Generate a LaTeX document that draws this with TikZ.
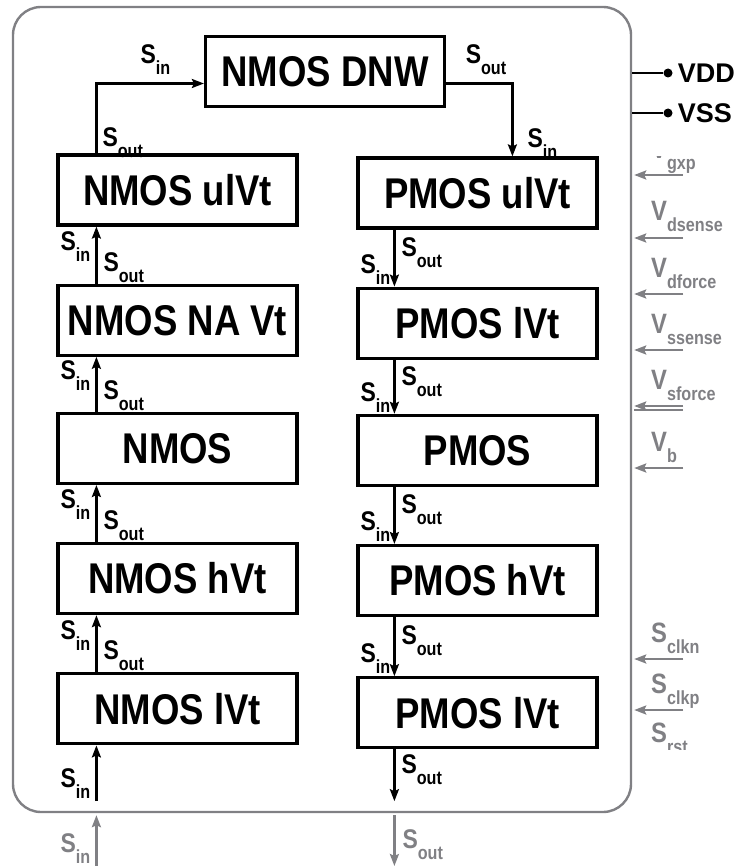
\documentclass[tikz,border=0pt]{standalone}
\usepackage{fontspec}
\setmainfont{Liberation Sans}
\newfontfamily\narrowsf{Liberation Sans}[FakeStretch=0.85]
\usetikzlibrary{arrows.meta,positioning,calc}
\definecolor{pingray}{RGB}{128,128,132}
\newcommand{\subl}[2]{#1\raisebox{-11pt}{\fontsize{19}{19}\selectfont #2}}

\begin{document}
\begin{tikzpicture}[
    x=1pt, y=-1pt,
    box/.style={
      draw, line width=3.2pt, minimum width=239pt, minimum height=70pt,
      inner sep=0pt, font=\narrowsf\bfseries\fontsize{43}{43}\selectfont
    },
    sig/.style={line width=2.3pt, -{Stealth[length=12pt,width=9pt,inset=2pt]}},
    gsig/.style={sig, draw=pingray, fill=pingray},
    lbl/.style={inner sep=0pt, font=\narrowsf\bfseries\fontsize{27}{27}\selectfont},
    glbl/.style={lbl, text=pingray},
    sidelbl/.style={glbl, font=\narrowsf\bfseries\fontsize{28}{28}\selectfont},
    frame/.style={draw=pingray, line width=2.4pt, rounded corners=28pt},
    pin/.style={circle, fill, inner sep=0pt, minimum size=9pt}
  ]
    \useasboundingbox (0,0) rectangle (741,866);
    \node[frame, minimum width=618pt, minimum height=805pt] (chip) at (322,409.5) {};

    % blocks
    \node[box] (dnw) at (325,71.5) {NMOS DNW};
    \node[box] (nulvt) at (177.5,190) {NMOS ulVt};
    \node[box, below=57pt of nulvt] (nnavt) {NMOS NA Vt};
    \node[box, below=55pt of nnavt] (nmos) {NMOS};
    \node[box, below=57pt of nmos] (nhvt) {NMOS hVt};
    \node[box, below=57pt of nhvt] (nlvt) {NMOS lVt};
    \node[box] (pulvt) at (477.5,193) {PMOS ulVt};
    \node[box, below=57pt of pulvt] (plvt) {PMOS lVt};
    \node[box, below=54pt of plvt] (pmos) {PMOS};
    \node[box, below=57pt of pmos] (phvt) {PMOS hVt};
    \node[box, below=59pt of phvt] (plvtb) {PMOS lVt};

    % scan chain
    \draw[sig] ([xshift=40pt]nulvt.north west) |- ([yshift=-12pt]dnw.west)
      node[lbl, pos=0.05, anchor=base west, xshift=5pt] (o0) {\subl{S}{out}}
      node[lbl, pos=0.7, anchor=base west, yshift=20pt] (i0) {\subl{S}{in}};
    \draw[sig] ([yshift=-12pt]dnw.east) -| ([xshift=156pt]pulvt.north west)
      node[lbl, pos=0.14, anchor=base west, yshift=20pt] (o1) {\subl{S}{out}}
      node[lbl, pos=0.94, anchor=base west, xshift=14pt] (i1) {\subl{S}{in}};
    \foreach \lo/\hi in {nnavt/nulvt, nmos/nnavt, nhvt/nmos, nlvt/nhvt}
      \draw[sig] ([xshift=40pt]\lo.north west) -- ([xshift=40pt]\hi.south west)
        node[lbl, pos=0.58, anchor=base east, xshift=-5pt] (in-\hi) {\subl{S}{in}}
        node[lbl, pos=0.22, anchor=base west, xshift=6pt] (out-\lo) {\subl{S}{out}};
    \foreach \hi/\lo in {pulvt/plvt, plvt/pmos, pmos/phvt, phvt/plvtb}
      \draw[sig] ([xshift=38pt]\hi.south west) -- ([xshift=38pt]\lo.north west)
        node[lbl, pos=0.47, anchor=base west, xshift=6pt] (out-\hi) {\subl{S}{out}}
        node[lbl, pos=0.77, anchor=base east, xshift=-3pt] (in-\lo) {\subl{S}{in}};

    % chain ends
    \coordinate (nlx) at ([xshift=40pt]nlvt.south west);
    \coordinate (inb) at (nlx |- chip.south);
    \coordinate (plx) at ([xshift=38pt]plvtb.south west);
    \coordinate (outb) at (plx |- chip.south);
    \draw[sig] ([yshift=12pt]inb) -- (nlx)
      node[lbl, pos=0.24, anchor=base east, xshift=-5pt] (in-end) {\subl{S}{in}};
    \draw[sig] (plx) -- ([yshift=12pt]outb)
      node[lbl, pos=0.47, anchor=base west, xshift=6pt] (out-end) {\subl{S}{out}};
    \draw[gsig] (nlx |- 0,866) -- ([yshift=-2pt]inb)
      node[glbl, pos=0.27, anchor=base east, xshift=-5pt] (in-ext) {\subl{S}{in}};
    \draw[gsig] ([yshift=-2pt]outb) -- (plx |- 0,866)
      node[glbl, pos=0.65, anchor=base west, xshift=7pt] (out-ext) {\subl{S}{out}};

    % supplies
    \node[pin] (vdd) at (668,73) {};
    \node[pin] (vss) at (668,113) {};
    \draw[line width=2.2pt] (vdd) -- (vdd -| chip.east);
    \draw[line width=2.2pt] (vss) -- (vss -| chip.east);
    \node[anchor=west, inner sep=0pt, xshift=5pt, font=\bfseries\fontsize{27}{27}\selectfont] (vddl) at (vdd.east) {VDD};
    \node[anchor=west, inner sep=0pt, xshift=5pt, font=\bfseries\fontsize{27}{27}\selectfont] (vssl) at (vss.east) {VSS};

    % test inputs
    \foreach \y/\nm/\sb in {238/V/dsense, 294/V/dforce, 350/V/ssense, 406/V/sforce, 468/V/b, 659/S/clkn, 710/S/clkp} {
      \coordinate (src-\sb) at (683,\y);
      \draw[gsig] (src-\sb) -- ([xshift=2pt]src-\sb -| chip.east);
      \node[sidelbl, anchor=base west] (lab-\sb) at (651,{\y-17}) {\subl{\nm}{\sb}};
    }
    \draw[pingray, line width=1.4pt] (683,410) -- (634,410);
    \coordinate (src-gxp) at (683,175);
    \draw[gsig] (src-gxp) -- ([xshift=2pt]src-gxp -| chip.east);
    \begin{scope}
      \clip (640,156.5) rectangle (741,200);
      \node[sidelbl, anchor=base west] (lab-gxp) at (651,159) {\subl{V}{gxp}};
    \end{scope}
    \begin{scope}
      \clip (640,700) rectangle (741,749);
      \node[sidelbl, anchor=base west] (lab-rst) at (651,742) {\subl{S}{rst}};
    \end{scope}
  \end{tikzpicture}
\end{document}
